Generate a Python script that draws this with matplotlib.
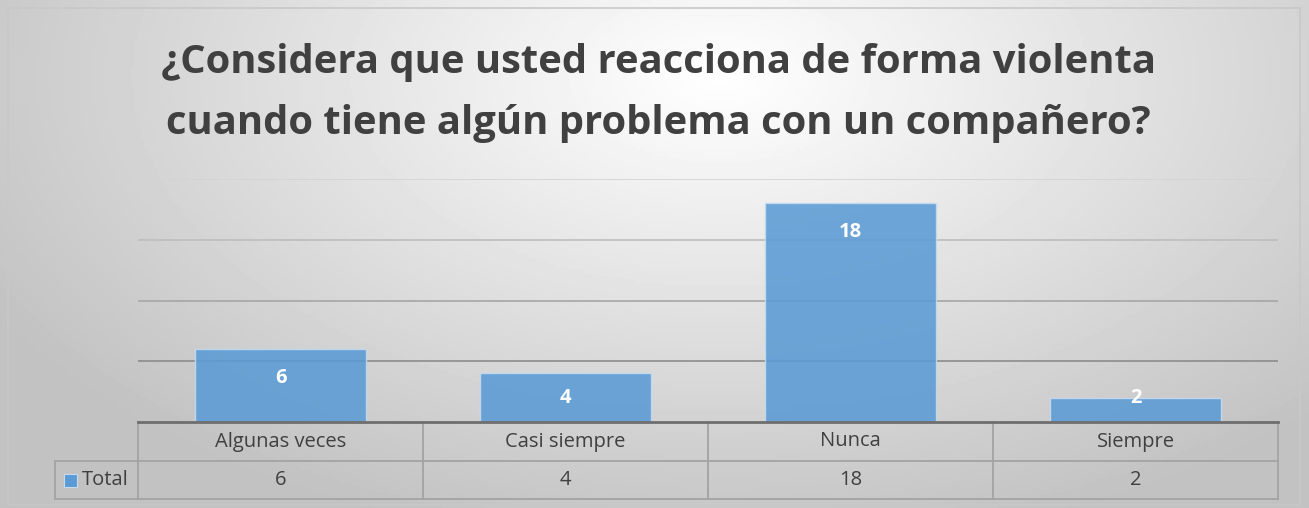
import numpy as np
import matplotlib.pyplot as plt
from matplotlib.lines import Line2D
from matplotlib.patches import Rectangle

title = "¿Considera que usted reacciona de forma violenta\ncuando tiene algún problema con un compañero?"
categories = ["Algunas veces", "Casi siempre", "Nunca", "Siempre"]
totals = [6, 4, 18, 2]
series_name = "Total"
y_ticks = [0, 5, 10, 15, 20]

W, H = 1309, 508
fig = plt.figure(figsize=(W / 100, H / 100), dpi=100)

# radial grey background, light near the title
bg = fig.add_axes([0, 0, 1, 1], zorder=-5)
xx, yy = np.meshgrid(np.linspace(0, 1, 400), np.linspace(0, 1, 160))
r = np.sqrt(((xx - 0.55) / 0.75) ** 2 + ((yy - 0.15) / 1.1) ** 2)
shade = np.clip(1.0 - 0.28 * r, 0.76, 1.0)
bg.imshow(shade, cmap="gray", vmin=0, vmax=1, aspect="auto", extent=(0, 1, 0, 1),
          origin="upper")
bg.add_patch(Rectangle((8 / W, 3 / H), 1292 / W, 497 / H, fill=False,
                       ec="#c8c8c8", lw=1.2))
bg.set_xlim(0, 1)
bg.set_ylim(0, 1)
bg.axis("off")

fig.text(0.503, 1 - 93 / H, title, ha="center", va="center", fontsize=28.8,
         fontweight="bold", family="Open Sans", color="#404040", linespacing=1.72)

ax = fig.add_axes([138 / W, 86 / H, 1140 / W, 243 / H])
ax.patch.set_alpha(0)
x = np.arange(len(categories))
grid_colors = ["#5f5f5f", "#8c8c8c", "#a6a6a6", "#bdbdbd", "#d3d3d3"]
for t, c in zip(y_ticks[1:], grid_colors[1:]):
    ax.axhline(t, color=c, lw=1.2, zorder=0)
bars = ax.bar(x, totals, width=0.6, color="#5b9bd5", alpha=0.88,
              edgecolor="#c6dbf0", linewidth=1, zorder=2)
for xi, v in zip(x, totals):
    ax.text(xi, max(v - 2.4, 2.0), str(v), ha="center", va="center",
            color="white", fontsize=14.5, fontweight="bold", family="Open Sans",
            zorder=3)
ax.set_xlim(-0.5, len(categories) - 0.5)
ax.set_ylim(y_ticks[0], y_ticks[-1])
ax.set_xticks([])
ax.set_yticks([])
for s in ax.spines.values():
    s.set_visible(False)

# data table under the plot
tr = ax.get_xaxis_transform()
row1 = -39 / 243
row2 = -77 / 243
left = -0.5 - 83 / 285
lc = "#a3a3a3"
ax.add_line(Line2D([-0.5, 3.5], [0, 0], transform=tr, color="#6e6e6e", lw=2,
                   clip_on=False, zorder=4))
ax.add_line(Line2D([left, 3.5], [row1, row1], transform=tr, color=lc, lw=1.3,
                   clip_on=False))
ax.add_line(Line2D([left, 3.5], [row2, row2], transform=tr, color=lc, lw=1.3,
                   clip_on=False))
ax.add_line(Line2D([left, left], [row1, row2], transform=tr, color=lc, lw=1.3,
                   clip_on=False))
for b in np.arange(len(categories) + 1) - 0.5:
    ax.add_line(Line2D([b, b], [0, row2], transform=tr, color=lc, lw=1.3,
                       clip_on=False))
for xi, cat, v in zip(x, categories, totals):
    ax.text(xi, row1 / 2, cat, transform=tr, ha="center", va="center",
            fontsize=14.5, family="Open Sans", color="#404040")
    ax.text(xi, (row1 + row2) / 2, str(v), transform=tr, ha="center",
            va="center", fontsize=14.5, family="Open Sans", color="#404040")
ax.add_patch(Rectangle((left + 9 / 285, (row1 + row2) / 2 - 6.5 / 243),
                       13 / 285, 13 / 243, transform=tr, fc="#5b9bd5",
                       ec="#c6dbf0", lw=0.8, clip_on=False))
ax.text(left + 27 / 285, (row1 + row2) / 2, series_name, transform=tr,
        ha="left", va="center", fontsize=14.5, family="Open Sans",
        color="#404040")

fig.savefig("out.png", dpi=100)
